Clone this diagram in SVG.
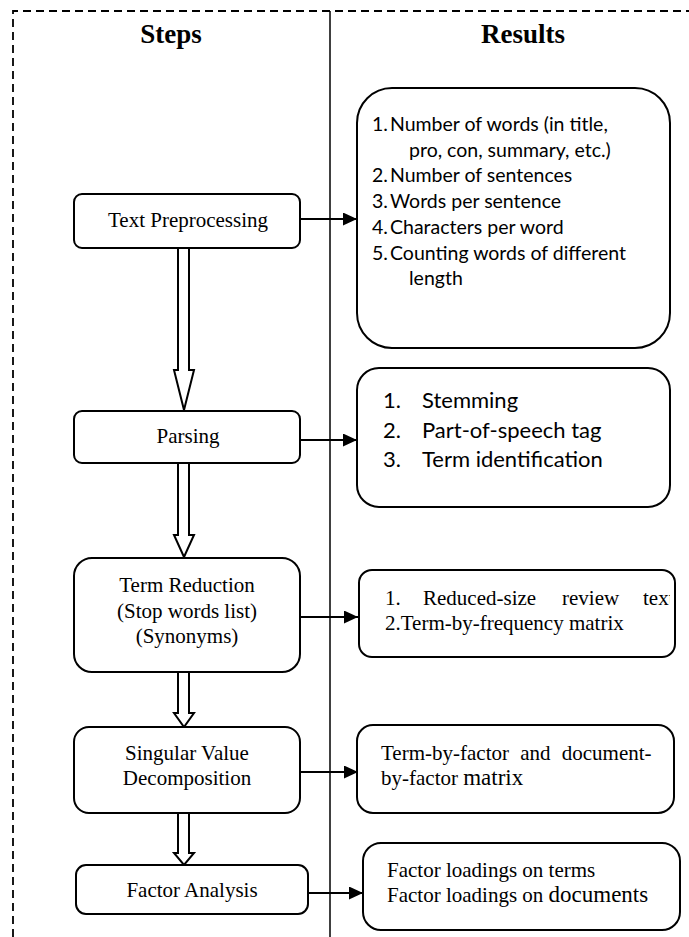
<svg xmlns="http://www.w3.org/2000/svg" width="689" height="937" viewBox="0 0 689 937">
<style>
.box{fill:#fff;stroke:#000;stroke-width:2}
.serif{font-family:"Liberation Serif","Times New Roman",serif;font-size:21px;fill:#000}
.head{font-family:"Liberation Serif","Times New Roman",serif;font-size:27px;font-weight:bold;fill:#000}
.sans{font-family:Lato,"Liberation Sans",sans-serif;fill:#000}
.conn{stroke:#000;stroke-width:2;fill:none}
.dbl{fill:#fff;stroke:#000;stroke-width:2;stroke-linejoin:miter}
</style>
<defs>
<marker id="ah" markerUnits="userSpaceOnUse" markerWidth="15" markerHeight="13" refX="14" refY="6.5" orient="auto">
<path d="M0,0 L14,6.5 L0,13 z" fill="#000"/>
</marker>
<clipPath id="c3"><rect x="359" y="570" width="311" height="87"/></clipPath>
</defs>
<rect width="689" height="937" fill="#fff"/>
<g id="frame">
<path d="M13,937 V11 H689" fill="none" stroke="#000" stroke-width="1.8" stroke-dasharray="8,5"/>
<line x1="330" y1="11" x2="330" y2="937" stroke="#000" stroke-width="1.5"/>
<text class="head" x="171" y="43" text-anchor="middle">Steps</text>
<text class="head" x="523" y="43" text-anchor="middle">Results</text>
</g>
<g id="connectors">
<line class="conn" x1="300" y1="219" x2="357" y2="219" marker-end="url(#ah)"/>
<line class="conn" x1="300" y1="440" x2="357" y2="440" marker-end="url(#ah)"/>
<line class="conn" x1="300" y1="617" x2="358" y2="617" marker-end="url(#ah)"/>
<line class="conn" x1="300" y1="772" x2="358" y2="772" marker-end="url(#ah)"/>
<line class="conn" x1="308" y1="893" x2="363" y2="893" marker-end="url(#ah)"/>
<path class="dbl" d="M178,248 V370 H174 L184,410 L194,370 H189 V248"/>
<path class="dbl" d="M178,463 V535 H174 L184,557 L194,535 H189 V463"/>
<path class="dbl" d="M178,672 V713 H174 L184,727 L194,713 H189 V672"/>
<path class="dbl" d="M178,813 V853 H174 L184,865 L194,853 H189 V813"/>
</g>
<g id="n_tp">
<rect class="box" x="74" y="194" width="226" height="54" rx="8"/>
<text class="serif" x="188" y="227" text-anchor="middle">Text Preprocessing</text>
</g>
<g id="n_parsing">
<rect class="box" x="74" y="411" width="226" height="52" rx="8"/>
<text class="serif" x="188" y="443" text-anchor="middle">Parsing</text>
</g>
<g id="n_tr">
<rect class="box" x="74" y="558" width="226" height="114" rx="18"/>
<text class="serif" x="187" y="592" text-anchor="middle">Term Reduction</text>
<text class="serif" x="187" y="618" text-anchor="middle">(Stop words list)</text>
<text class="serif" x="187" y="643" text-anchor="middle">(Synonyms)</text>
</g>
<g id="n_svd">
<rect class="box" x="74" y="727" width="226" height="86" rx="15"/>
<text class="serif" x="187" y="760" text-anchor="middle">Singular Value</text>
<text class="serif" x="187" y="785" text-anchor="middle">Decomposition</text>
</g>
<g id="n_fa">
<rect class="box" x="76" y="865" width="232" height="49" rx="10"/>
<text class="serif" x="192" y="897" text-anchor="middle">Factor Analysis</text>
</g>
<g id="r_tp">
<rect class="box" x="357" y="88" width="313" height="260" rx="35"/>
<g class="sans" font-size="19.5">
<text x="372" y="131">1.</text><text x="390" y="131">Number of words (in title,</text>
<text x="409" y="156.5">pro, con, summary, etc.)</text>
<text x="372" y="182">2.</text><text x="390" y="182">Number of sentences</text>
<text x="372" y="208">3.</text><text x="390" y="208">Words per sentence</text>
<text x="372" y="234">4.</text><text x="390" y="234">Characters per word</text>
<text x="372" y="260">5.</text><text x="390" y="260">Counting words of different</text>
<text x="409" y="285">length</text>
</g>
</g>
<g id="r_parsing">
<rect class="box" x="357" y="368" width="313" height="139" rx="22"/>
<g class="sans" font-size="22">
<text x="383" y="408">1.</text><text x="422" y="408">Stemming</text>
<text x="383" y="438">2.</text><text x="422" y="438">Part-of-speech tag</text>
<text x="383" y="467">3.</text><text x="422" y="467">Term identification</text>
</g>
</g>
<g id="r_tr">
<rect class="box" x="359" y="570" width="316" height="87" rx="13"/>
<g clip-path="url(#c3)">
<text class="serif" x="385" y="605">1.</text>
<text class="serif" x="423" y="605">Reduced-size</text>
<text class="serif" x="562" y="605">review</text>
<text class="serif" x="643" y="605">text</text>
</g>
<text class="serif" x="385" y="630">2.Term-by-frequency matrix</text>
</g>
<g id="r_svd">
<rect class="box" x="357" y="725" width="317" height="88" rx="16"/>
<text class="serif" x="381" y="760" word-spacing="6">Term-by-factor and document-</text>
<text class="serif" x="381" y="785">by-factor <tspan font-size="23">matrix</tspan></text>
</g>
<g id="r_fa">
<rect class="box" x="363" y="843" width="317" height="87" rx="18"/>
<text class="serif" x="387" y="877">Factor loadings on terms</text>
<text class="serif" x="387" y="902">Factor loadings on <tspan font-size="23">documents</tspan></text>
</g>
</svg>
